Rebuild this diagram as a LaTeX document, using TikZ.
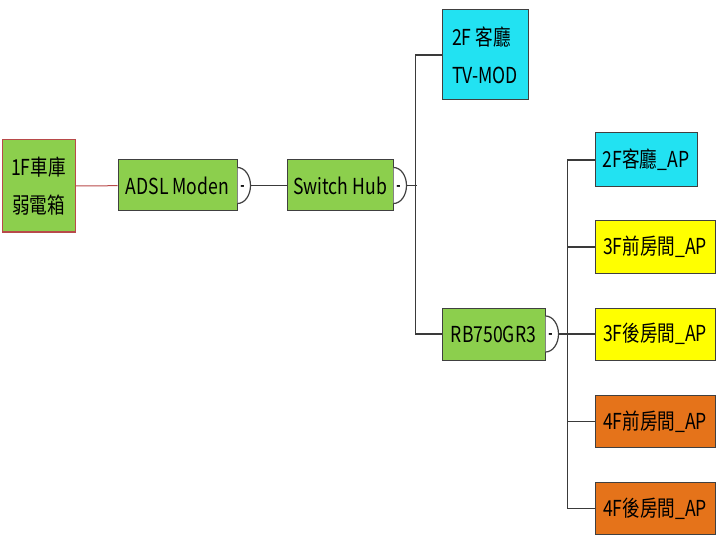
\documentclass[tikz,border=0pt]{standalone}
\usepackage{fontspec}
\setmainfont{Noto Sans CJK TC}[FakeStretch=0.8]
\usetikzlibrary{positioning}
\definecolor{mapGreen}{HTML}{8CCF4D}
\definecolor{mapCyan}{HTML}{22E2F2}
\definecolor{mapYellow}{HTML}{FFFF00}
\definecolor{mapOrange}{HTML}{E5731A}
\definecolor{mapEdge}{HTML}{404040}
\definecolor{mapRed}{HTML}{B84A4A}

\newcommand{\foldmark}[1]{%
  \draw[mapEdge, line width=1.2pt, fill=white] ([yshift=18pt]#1.east)
    arc[start angle=90, end angle=-90, x radius=13pt, y radius=18pt];
  \node[font=\fontsize{14}{14}\selectfont\bfseries, inner sep=0pt]
    at ([xshift=5pt, yshift=-2.5pt]#1.east) {-};}

\begin{document}
\begin{tikzpicture}[
        x=1pt, y=-1pt,
        box/.style={draw=mapEdge, line width=1pt, inner sep=0pt, align=center,
                    font=\fontsize{22}{38}\selectfont},
        link/.style={line width=1.2pt, mapEdge!90!black},
    ]
    \useasboundingbox (0,0) rectangle (720,540);

    \node[box, fill=mapGreen, draw=mapRed, minimum width=73pt, minimum height=92pt]
        (root) at (38.5,186) {1F車庫\\弱電箱};
    \node[box, fill=mapGreen, minimum width=119pt, minimum height=51pt]
        (adsl) at (177.5,185.5) {ADSL Moden};
    \node[box, fill=mapGreen, minimum width=106pt, minimum height=51pt]
        (hub) at (340,185.5) {Switch Hub};
    \node[box, fill=mapCyan, align=left, minimum width=86pt, minimum height=90pt]
        (tv) at (485,55) {2F 客廳\\TV-MOD};
    \node[box, fill=mapGreen, minimum width=103pt, minimum height=52pt]
        (rb) at (493.5,334) {RB750GR3};

    \node[box, fill=mapCyan, minimum width=102pt, minimum height=54pt]
        (ap1) at (646,160) {2F客廳\_AP};
    \node[box, fill=mapYellow, minimum width=120pt, minimum height=52pt]
        (ap2) at (655,247) {3F前房間\_AP};
    \node[box, fill=mapYellow, minimum width=120pt, minimum height=52pt]
        (ap3) at (655,334) {3F後房間\_AP};
    \node[box, fill=mapOrange, minimum width=120pt, minimum height=52pt]
        (ap4) at (655,421.5) {4F前房間\_AP};
    \node[box, fill=mapOrange, minimum width=120pt, minimum height=52pt]
        (ap5) at (655,508.5) {4F後房間\_AP};

    % connectors
    \draw[mapRed, line width=1pt] (root) -- (adsl);
    \draw[link] (adsl) -- (hub);
    \draw[link] ([xshift=13pt]hub.east) -- ++(10pt,0);
    \draw[link] (tv.west) -- ++(-26pt,0) |- (rb.west);
    \draw[link] ([xshift=13pt]rb.east) -- ++(10pt,0);
    \draw[link] (ap1.west) -- ++(-27pt,0) |- (ap5.west);
    \draw[link] (ap2.west) -- ++(-27pt,0);
    \draw[link] (ap3.west) -- ++(-27pt,0);
    \draw[link] (ap4.west) -- ++(-27pt,0);

    \foldmark{adsl}
    \foldmark{hub}
    \foldmark{rb}
\end{tikzpicture}
\end{document}
